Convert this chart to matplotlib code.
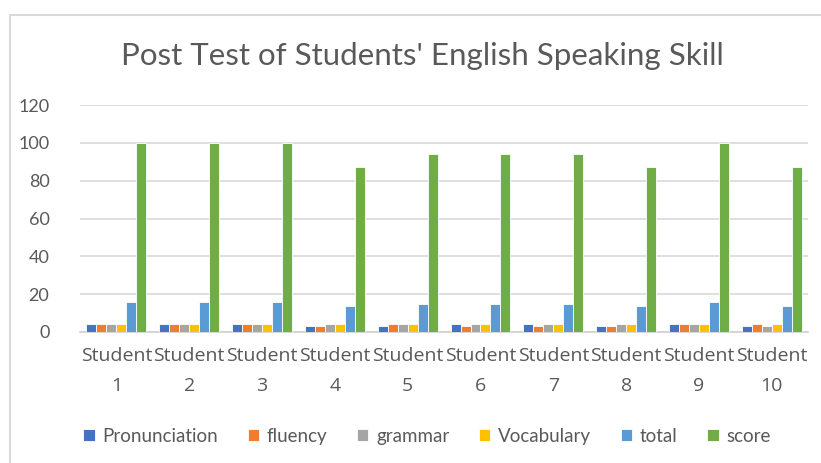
import numpy as np
import matplotlib.pyplot as plt
from matplotlib.patches import Rectangle

students = ['Student\n1', 'Student\n2', 'Student\n3', 'Student\n4', 'Student\n5',
            'Student\n6', 'Student\n7', 'Student\n8', 'Student\n9', 'Student\n10']
pronunciation = [4, 4, 4, 3, 3, 4, 4, 3, 4, 3]
fluency = [4, 4, 4, 3, 4, 3, 3, 3, 4, 4]
grammar = [4, 4, 4, 4, 4, 4, 4, 4, 4, 3]
vocabulary = [4, 4, 4, 4, 4, 4, 4, 4, 4, 4]
total = [16, 16, 16, 14, 15, 15, 15, 14, 16, 14]
score = [100, 100, 100, 87, 94, 94, 94, 87, 100, 87]

series = [('Pronunciation', pronunciation, '#4472C4'),
          ('fluency', fluency, '#ED7D31'),
          ('grammar', grammar, '#A5A5A5'),
          ('Vocabulary', vocabulary, '#FFC000'),
          ('total', total, '#5B9BD5'),
          ('score', score, '#70AD47')]

plt.rcParams['font.family'] = ['Lato', 'DejaVu Sans']
txt = '#595959'

fig = plt.figure(figsize=(8.21, 4.63), dpi=100)
ax = fig.add_axes([0.0974, 0.283, 0.887, 0.49])

x = np.arange(len(students))
w = 0.137
for i, (name, vals, col) in enumerate(series):
    ax.bar(x + (i - 2.5) * w, vals, w, color=col, edgecolor='white', linewidth=0.6,
           label=name, zorder=3)

ax.set_xlim(-0.5, len(students) - 0.5)
ax.set_ylim(0, 120)
ax.set_yticks(range(0, 121, 20))
ax.set_xticks(x)
ax.set_xticklabels(students, linespacing=1.85, family=['Open Sans', 'DejaVu Sans'],
                   fontsize=14)
ax.tick_params(axis='both', length=0, colors=txt, labelsize=13)
ax.tick_params(axis='x', pad=11, labelsize=14)
ax.tick_params(axis='y', pad=22)
ax.grid(axis='y', color='#d9d9d9', linewidth=1.2, zorder=0)
for s in ['left', 'right', 'top']:
    ax.spines[s].set_visible(False)
ax.spines['bottom'].set_color('#d0d0d0')
ax.spines['bottom'].set_linewidth(1.2)

fig.text(0.514, 0.878, "Post Test of Students' English Speaking Skill",
         ha='center', va='center', fontsize=22.5, color=txt)

fig.legend(loc='center', bbox_to_anchor=(0.52, 0.058), ncol=6, frameon=False,
           fontsize=13.5, labelcolor=txt, handlelength=0.6, handleheight=0.6,
           handletextpad=0.4, columnspacing=1.6)

fig.patches.append(Rectangle((10 / 821, -0.1), 1.2, 1 - 15 / 463 + 0.1,
                             transform=fig.transFigure, fill=False,
                             edgecolor='#d9d9d9', linewidth=1.5))

fig.savefig('out.png', dpi=100)
